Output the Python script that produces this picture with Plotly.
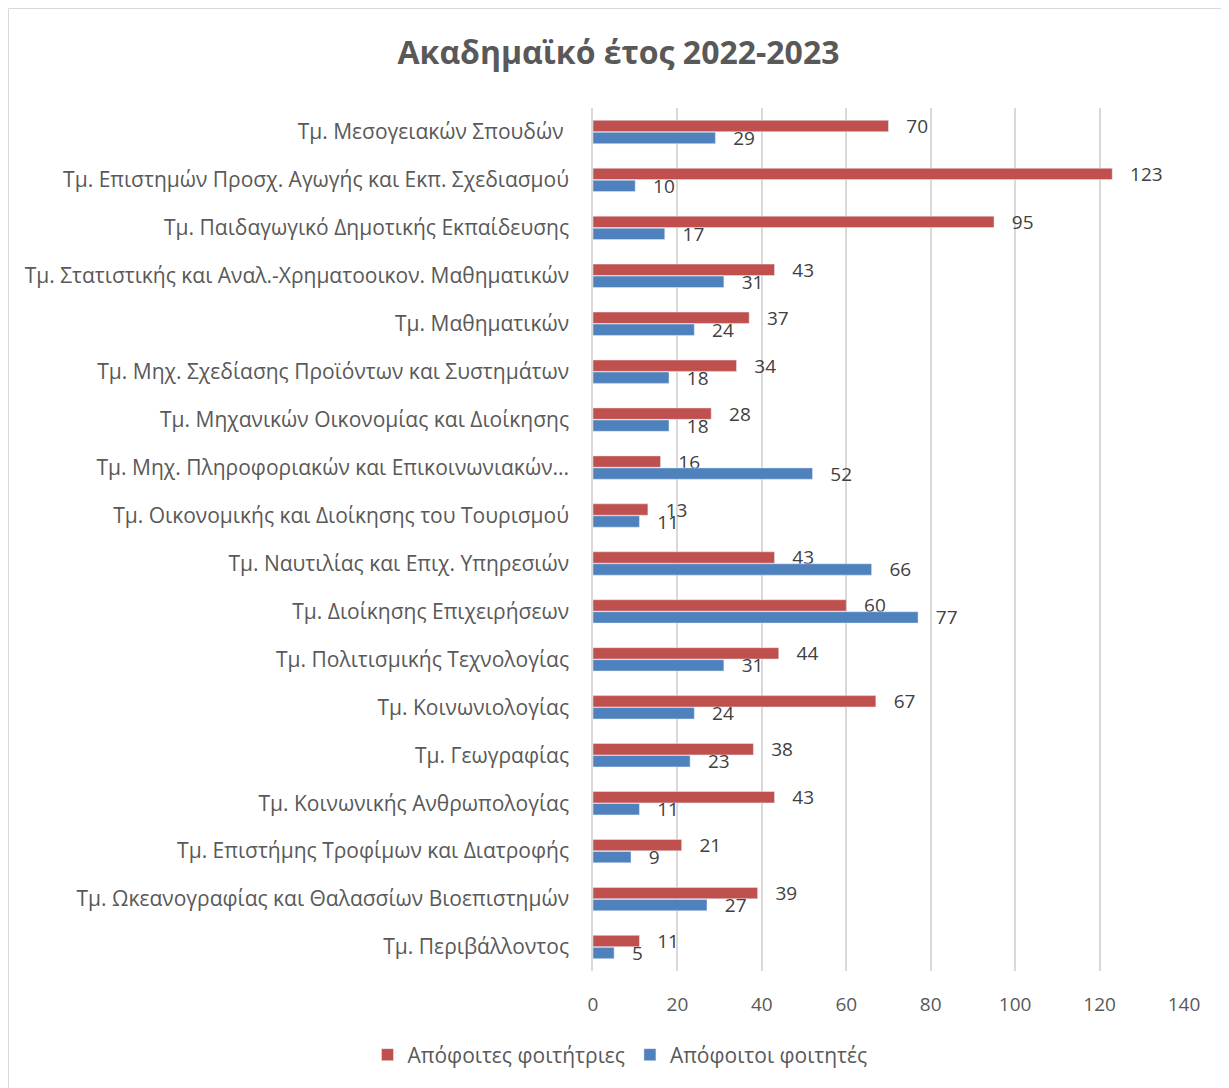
import plotly.graph_objects as go

departments = [
    "Τμ. Μεσογειακών Σπουδών ",
    "Τμ. Επιστημών Προσχ. Αγωγής και Εκπ. Σχεδιασμού",
    "Τμ. Παιδαγωγικό Δημοτικής Εκπαίδευσης",
    "Τμ. Στατιστικής και Αναλ.-Χρηματοοικον. Μαθηματικών",
    "Τμ. Μαθηματικών",
    "Τμ. Μηχ. Σχεδίασης Προϊόντων και Συστημάτων",
    "Τμ. Μηχανικών Οικονομίας και Διοίκησης",
    "Τμ. Μηχ. Πληροφοριακών και Επικοινωνιακών...",
    "Τμ. Οικονομικής και Διοίκησης του Τουρισμού",
    "Τμ. Ναυτιλίας και Επιχ. Υπηρεσιών",
    "Τμ. Διοίκησης Επιχειρήσεων",
    "Τμ. Πολιτισμικής Τεχνολογίας",
    "Τμ. Κοινωνιολογίας",
    "Τμ. Γεωγραφίας",
    "Τμ. Κοινωνικής Ανθρωπολογίας",
    "Τμ. Επιστήμης Τροφίμων και Διατροφής",
    "Τμ. Ωκεανογραφίας και Θαλασσίων Βιοεπιστημών",
    "Τμ. Περιβάλλοντος",
]
female = [70, 123, 95, 43, 37, 34, 28, 16, 13, 43, 60, 44, 67, 38, 43, 21, 39, 11]
male = [29, 10, 17, 31, 24, 18, 18, 52, 11, 66, 77, 31, 24, 23, 11, 9, 27, 5]
x_ticks = [0, 20, 40, 60, 80, 100, 120, 140]

font_family = "Open Sans, Noto Sans, sans-serif"
grey = "#595959"

# page body adds an 8px margin, so the figure is 8px smaller
W, H = 1221, 1080
L, T = 585, 100
PW, PH = 591, 863

fig = go.Figure()
fig.add_trace(go.Bar(
    y=departments, x=female, orientation="h",
    name="Απόφοιτες φοιτήτριες",
    marker=dict(color="#C0504D"),
    text=female, texttemplate="\u00a0\u00a0\u00a0%{x}", textposition="outside",
    textfont=dict(size=19, color="#404040"), constraintext="none",
    cliponaxis=False,
))
fig.add_trace(go.Bar(
    y=departments, x=male, orientation="h",
    name="Απόφοιτοι φοιτητές",
    marker=dict(color="#4F81BD"),
    text=male, texttemplate="\u00a0\u00a0\u00a0%{x}", textposition="outside",
    textfont=dict(size=19, color="#404040"), constraintext="none",
    cliponaxis=False,
))

fig.update_layout(
    width=W, height=H,
    barmode="group", bargap=0.5, bargroupgap=0.05,
    paper_bgcolor="white", plot_bgcolor="white",
    font=dict(family=font_family, color=grey, size=18),
    margin=dict(l=L, r=W - L - PW, t=T, b=H - T - PH),
    title=dict(
        text="<b>Ακαδημαϊκό έτος 2022-2023</b>",
        x=0.5, xanchor="center", y=1 - 45 / H, yanchor="middle",
        font=dict(size=32, color=grey),
    ),
    legend=dict(
        orientation="h", xref="container", yref="container",
        x=612 / W, xanchor="center", y=1 - 1047 / H, yanchor="middle",
        font=dict(size=21, color=grey), traceorder="normal",
        itemwidth=30,
    ),
    showlegend=True,
    shapes=[dict(
        type="rect", xref="paper", yref="paper",
        x0=(0.5 - L) / PW, x1=(W + 2 - L) / PW,
        y0=(T + PH - H - 2) / PH, y1=(T + PH - 0.5) / PH,
        line=dict(color="#D9D9D9", width=1), fillcolor="rgba(0,0,0,0)",
        layer="below",
    )],
)
fig.update_xaxes(
    range=[0, 140], tickvals=x_ticks, showgrid=True, gridcolor="#D9D9D9",
    gridwidth=1.5, zeroline=False, showline=False, ticks="",
    tickfont=dict(size=19, color=grey), ticklabelstandoff=20,
)
fig.update_yaxes(
    autorange="reversed", showgrid=False, showline=True, linecolor="#D9D9D9",
    linewidth=1.5, ticks="", ticklabelstandoff=18,
    tickfont=dict(size=21, color=grey),
)

fig.write_html("out.html")
